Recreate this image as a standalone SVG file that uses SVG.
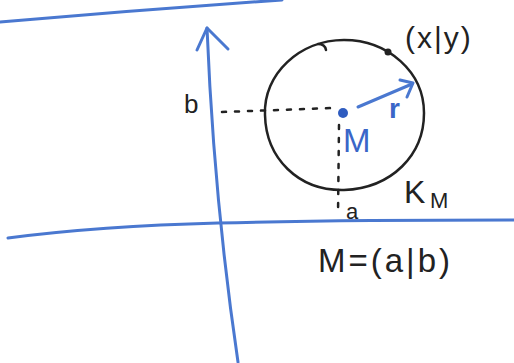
<svg xmlns="http://www.w3.org/2000/svg" width="514" height="363" viewBox="0 0 514 363">
<style>
.blue{stroke:#4a78d0;fill:none;stroke-width:3;stroke-linecap:round;stroke-linejoin:round}
.pen{stroke:#222;fill:none;stroke-width:2.5;stroke-linecap:round}
.dash{stroke:#222;fill:none;stroke-width:2.5;stroke-dasharray:4 9;stroke-linecap:round}
.t{font-family:"Liberation Sans",Arial,sans-serif;fill:#222}
.tb{font-family:"Liberation Sans",Arial,sans-serif;fill:#3a66c8}
</style>
<rect width="514" height="363" fill="#fff"/>
<g id="top-line"><path class="blue" d="M0,22 Q140,10 282,0"/></g>
<g id="connectors">
<path class="blue" d="M8,238 Q100,226 218,223 T514,220"/>
<path class="blue" d="M238,362 Q214,200 207,28"/>
<path class="blue" d="M197,50 L207,28 L228,49"/>
<path class="dash" d="M222,112 L333,108"/>
<path class="dash" d="M339,125 L338,215"/>
<path class="blue" d="M358,107 L412,84"/>
<path class="blue" d="M400,80 L413,83 L407,97"/>
</g>
<g id="circle">
<path class="pen" d="M265,115 C263,74 300,40 344,40 C388,40 424,72 424,113 C424,155 392,188 344,190 C298,191 266,158 265,115 Z"/>
<path class="pen" d="M318,44 Q325,44 326,50"/>
</g>
<g id="center"><circle cx="343" cy="113" r="5" fill="#2f5cc0"/></g>
<g id="point"><circle cx="388" cy="52" r="3.5" fill="#222"/></g>
<g id="labels">
<text class="t" x="184" y="113" font-size="26">b</text>
<text class="t" x="346" y="219" font-size="22">a</text>
<text class="tb" x="389" y="118" font-size="28" font-weight="bold">r</text>
<text class="tb" x="343" y="152" font-size="33">M</text>
<text class="t" x="405" y="48" font-size="30" letter-spacing="2">(x|y)</text>
<text class="t" x="404" y="203" font-size="32">K</text>
<text class="t" x="430" y="208" font-size="22">M</text>
<text class="t" x="318" y="272" font-size="33" letter-spacing="3">M=(a|b)</text>
</g>
</svg>
